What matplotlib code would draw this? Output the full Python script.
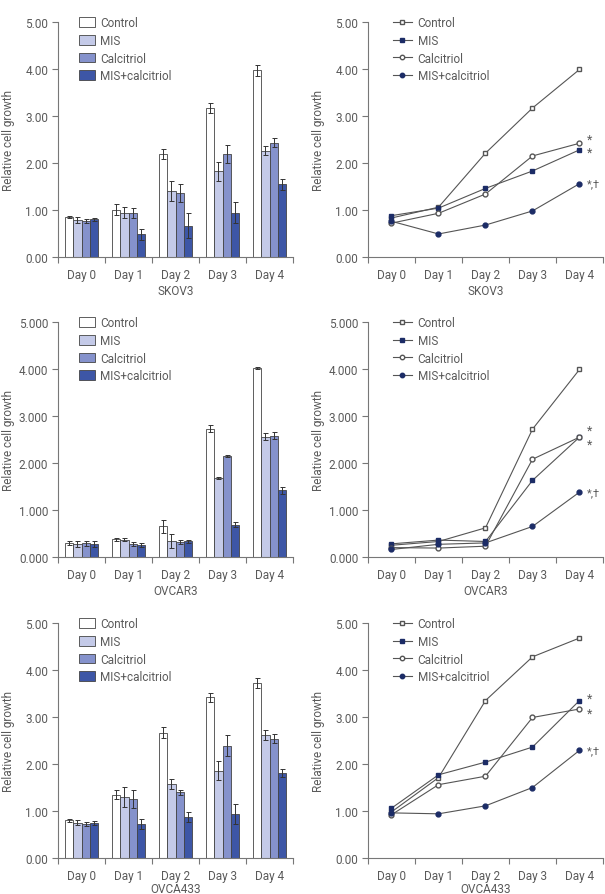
import numpy as np
import matplotlib
matplotlib.use("Agg")
import matplotlib.pyplot as plt
from matplotlib.lines import Line2D
from matplotlib.ticker import FormatStrFormatter

# フォント設定（細めのサンセリフ）
plt.rcParams["font.family"] = ["Roboto", "DejaVu Sans"]
plt.rcParams["text.color"] = "#5a5a5a"
plt.rcParams["axes.labelcolor"] = "#5a5a5a"
plt.rcParams["xtick.color"] = "#5a5a5a"
plt.rcParams["ytick.color"] = "#5a5a5a"

days = ["Day 0", "Day 1", "Day 2", "Day 3", "Day 4"]
groups = ["Control", "MIS", "Calcitriol", "MIS+calcitriol"]
cell_lines = ["SKOV3", "OVCAR3", "OVCA433"]
ytick_fmt = ["%.2f", "%.3f", "%.2f"]

# --- 棒グラフの値（平均, 誤差） ---
skov3_bar = [
    [0.85, 1.01, 2.19, 3.17, 3.97],
    [0.79, 0.94, 1.40, 1.82, 2.26],
    [0.77, 0.94, 1.36, 2.19, 2.43],
    [0.80, 0.48, 0.67, 0.94, 1.55],
]
skov3_err = [
    [0.03, 0.12, 0.11, 0.11, 0.12],
    [0.06, 0.12, 0.21, 0.21, 0.10],
    [0.04, 0.10, 0.20, 0.20, 0.10],
    [0.04, 0.12, 0.27, 0.22, 0.12],
]
ovcar3_bar = [
    [0.30, 0.38, 0.65, 2.73, 4.02],
    [0.28, 0.37, 0.34, 1.68, 2.56],
    [0.29, 0.28, 0.32, 2.15, 2.58],
    [0.28, 0.26, 0.33, 0.69, 1.42],
]
ovcar3_err = [
    [0.04, 0.03, 0.14, 0.07, 0.02],
    [0.07, 0.04, 0.15, 0.02, 0.08],
    [0.05, 0.04, 0.04, 0.02, 0.07],
    [0.06, 0.04, 0.04, 0.05, 0.07],
]
ovca433_bar = [
    [0.80, 1.35, 2.67, 3.42, 3.72],
    [0.75, 1.30, 1.58, 1.86, 2.62],
    [0.72, 1.26, 1.40, 2.39, 2.54],
    [0.75, 0.72, 0.87, 0.93, 1.81],
]
ovca433_err = [
    [0.04, 0.09, 0.11, 0.10, 0.10],
    [0.05, 0.22, 0.11, 0.20, 0.11],
    [0.04, 0.19, 0.05, 0.22, 0.10],
    [0.04, 0.10, 0.10, 0.21, 0.08],
]

# --- 折れ線グラフの値 ---
skov3_line = [
    [0.83, 1.06, 2.21, 3.17, 3.99],
    [0.88, 1.04, 1.46, 1.83, 2.28],
    [0.72, 0.93, 1.34, 2.15, 2.42],
    [0.76, 0.49, 0.68, 0.98, 1.56],
]
ovcar3_line = [
    [0.25, 0.33, 0.62, 2.72, 3.99],
    [0.28, 0.36, 0.33, 1.63, 2.55],
    [0.20, 0.19, 0.23, 2.08, 2.55],
    [0.16, 0.27, 0.30, 0.65, 1.38],
]
ovca433_line = [
    [0.98, 1.71, 3.35, 4.28, 4.68],
    [1.06, 1.77, 2.04, 2.36, 3.35],
    [0.92, 1.56, 1.74, 2.99, 3.17],
    [0.96, 0.94, 1.11, 1.50, 2.29],
]

# Day 4 の有意差記号（グループ番号, 記号, 縦方向オフセット pt）
skov3_marks = [(2, "*", 3), (1, "*", -2), (3, "*,\u2020", 0)]
ovcar3_marks = [(2, "*", 5), (1, "*", -5), (3, "*,\u2020", 0)]
ovca433_marks = [(1, "*", 2), (2, "*", -3), (3, "*,\u2020", 0)]

bar_sets = [(skov3_bar, skov3_err), (ovcar3_bar, ovcar3_err), (ovca433_bar, ovca433_err)]
line_sets = [skov3_line, ovcar3_line, ovca433_line]
mark_sets = [skov3_marks, ovcar3_marks, ovca433_marks]

bar_colors = ["white", "#c4cae8", "#8592cc", "#3d56a6"]
navy = "#1c2c66"
line_styles = [
    dict(marker="s", mfc="white", mec="#555555"),
    dict(marker="s", mfc=navy, mec=navy),
    dict(marker="o", mfc="white", mec="#555555"),
    dict(marker="o", mfc=navy, mec=navy),
]

W, H = 605, 895
fig = plt.figure(figsize=(W / 100, H / 100), dpi=100)

ax_left = [58, 368]
ax_top = [23, 323, 624]
ax_w, ax_h = 235, 235


def style_axes(ax, fmt):
    ax.set_xlim(-0.5, 4.5)
    ax.set_ylim(0, 5)
    ax.set_yticks(np.arange(0, 5.01, 1))
    ax.yaxis.set_major_formatter(FormatStrFormatter(fmt))
    ax.set_xticks(range(5))
    ax.set_xticklabels(days)
    ax.set_xticks(np.arange(-0.5, 4.6, 1), minor=True)
    ax.tick_params(axis="x", which="major", length=0, pad=8, labelsize=8.5)
    ax.tick_params(axis="x", which="minor", length=4, width=0.8, color="#777777")
    ax.tick_params(axis="y", length=4, width=0.8, color="#777777", labelsize=8.5, pad=3)
    for s in ["top", "right"]:
        ax.spines[s].set_visible(False)
    for s in ["left", "bottom"]:
        ax.spines[s].set_color("#777777")
        ax.spines[s].set_linewidth(0.8)
    ax.set_ylabel("Relative cell growth", fontsize=8.5)
    ax.yaxis.set_label_coords(-43 / 235, 0.5)


x = np.arange(5)
bw = 0.177

for r in range(3):
    y0 = 1 - (ax_top[r] + ax_h) / H
    pad = 2 if r < 2 else 0

    # ① 棒グラフ
    ax = fig.add_axes([ax_left[0] / W, y0, ax_w / W, ax_h / H])
    vals, errs = bar_sets[r]
    for g in range(4):
        pos = x + (g - 1.5) * bw
        ax.bar(pos, vals[g], width=bw, color=bar_colors[g], edgecolor="#444444",
               linewidth=0.6, label=groups[g], zorder=2)
        ax.errorbar(pos, vals[g], yerr=errs[g], fmt="none", ecolor="#333333",
                    elinewidth=0.7, capsize=1.8, capthick=0.7, zorder=3)
    style_axes(ax, ytick_fmt[r])
    ax.set_xlabel(cell_lines[r], fontsize=8.5, labelpad=pad)
    ax.legend(loc="upper left", bbox_to_anchor=(0.055, 1.06), frameon=False,
              fontsize=8.5, handlelength=1.3, handleheight=0.9, handletextpad=0.5,
              labelspacing=0.4, borderpad=0.2)

    # ② 折れ線グラフ
    ax = fig.add_axes([ax_left[1] / W, y0, ax_w / W, ax_h / H])
    vals = line_sets[r]
    handles = []
    for g in range(4):
        ax.plot(x, vals[g], color="#555555", linewidth=0.8, markersize=3.5,
                zorder=3, **line_styles[g])
        handles.append(Line2D([], [], color="#555555", linewidth=0.8, markersize=3.2,
                              label=groups[g], **line_styles[g]))
    for g, txt, dy in mark_sets[r]:
        fs = 9 if txt == "*" else 8
        ax.annotate(txt, (4, vals[g][4]), xytext=(5, dy), textcoords="offset points",
                    fontsize=fs, va="center", ha="left", color="#5a5a5a")
    style_axes(ax, ytick_fmt[r])
    ax.set_xlabel(cell_lines[r], fontsize=8.5, labelpad=pad)
    ax.legend(handles=handles, loc="upper left", bbox_to_anchor=(0.07, 1.06),
              frameon=False, fontsize=8.5, handlelength=1.6, handletextpad=0.5,
              labelspacing=0.4, borderpad=0.2)

fig.savefig("out.png", dpi=100)
